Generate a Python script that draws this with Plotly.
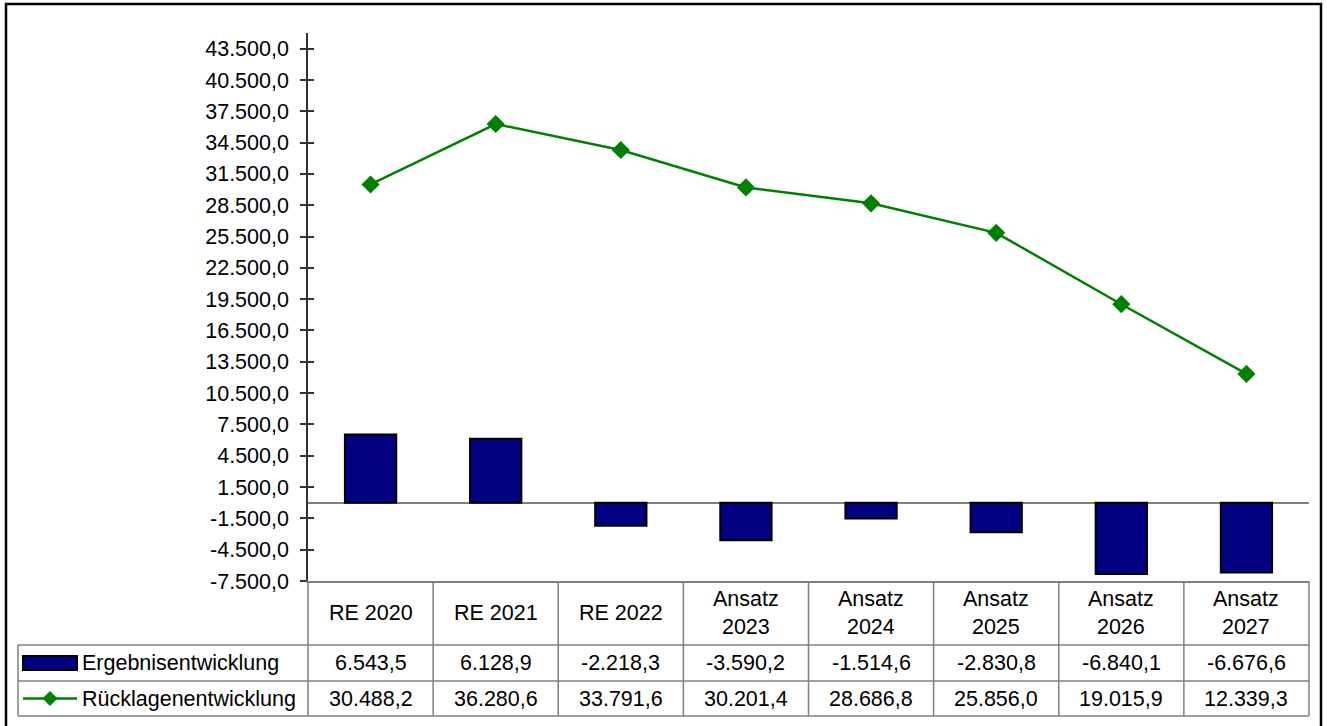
import plotly.graph_objects as go

# ---------------- data ----------------
categories = ["RE 2020", "RE 2021", "RE 2022", "Ansatz 2023", "Ansatz 2024",
              "Ansatz 2025", "Ansatz 2026", "Ansatz 2027"]
category_labels = ["RE 2020", "RE 2021", "RE 2022", "Ansatz<br>2023", "Ansatz<br>2024",
                   "Ansatz<br>2025", "Ansatz<br>2026", "Ansatz<br>2027"]
ergebnis = [6543.5, 6128.9, -2218.3, -3590.2, -1514.6, -2830.8, -6840.1, -6676.6]
ruecklagen = [30488.2, 36280.6, 33791.6, 30201.4, 28686.8, 25856.0, 19015.9, 12339.3]
series_names = ["Ergebnisentwicklung", "Rücklagenentwicklung"]
y_ticks = [-7500, -4500, -1500, 1500, 4500, 7500, 10500, 13500, 16500, 19500,
           22500, 25500, 28500, 31500, 34500, 37500, 40500, 43500]
y_range = [-7500, 45000]


def de(v):
    s = f"{v:,.1f}"
    return s.replace(",", "X").replace(".", ",").replace("X", ".")


# ---------------- layout geometry (screen pixels; body margin removed) ----------------
W, H = 1327, 726
L, R, T, B = 308, 1309, 33, 581          # plot area
FONT = "Liberation Sans, Arial, sans-serif"
FS = 21.5
TABLE_LEFT = 18
ROW_CAT_BOTTOM = 645
ROW1_BOTTOM = 681
ROW2_BOTTOM = 716
GRID = "#808080"


def px(p):
    return (p - L) / (R - L)


def py(p):
    return (B - p) / (B - T)


fig = go.Figure()
fig.add_trace(go.Bar(
    x=categories, y=ergebnis, name=series_names[0], width=0.41,
    marker=dict(color="#000080", line=dict(color="#000000", width=2)),
    showlegend=False,
))
fig.add_trace(go.Scatter(
    x=categories, y=ruecklagen, name=series_names[1], mode="lines+markers",
    line=dict(color="#008000", width=2.5),
    marker=dict(symbol="diamond", size=14, color="#008000"),
    showlegend=False,
))
# invisible helper trace for the inner half of the cross ticks
fig.add_trace(go.Scatter(
    x=categories, y=ruecklagen, yaxis="y2", mode="markers",
    marker=dict(opacity=0), hoverinfo="skip", showlegend=False,
))

shapes = []
# outer frame
shapes.append(dict(type="rect", xref="paper", yref="paper",
                   x0=px(6), x1=px(1321), y0=py(760), y1=py(4),
                   line=dict(color="black", width=2.5)))
# table horizontal lines
for yy in [ROW_CAT_BOTTOM, ROW1_BOTTOM, ROW2_BOTTOM]:
    shapes.append(dict(type="line", xref="paper", yref="paper",
                       x0=px(TABLE_LEFT), x1=1, y0=py(yy), y1=py(yy),
                       line=dict(color=GRID, width=1.5)))
# table vertical lines (category separators)
n = len(categories)
for k in range(n + 1):
    shapes.append(dict(type="line", xref="paper", yref="paper",
                       x0=k / n, x1=k / n, y0=0, y1=py(ROW2_BOTTOM),
                       line=dict(color=GRID, width=1.5)))
# left edge of legend column
shapes.append(dict(type="line", xref="paper", yref="paper",
                   x0=px(TABLE_LEFT), x1=px(TABLE_LEFT),
                   y0=py(ROW_CAT_BOTTOM), y1=py(ROW2_BOTTOM),
                   line=dict(color=GRID, width=1.5)))

# legend keys
r1c = (ROW_CAT_BOTTOM + ROW1_BOTTOM) / 2
r2c = (ROW1_BOTTOM + ROW2_BOTTOM) / 2
shapes.append(dict(type="rect", xref="paper", yref="paper",
                   x0=px(23), x1=px(77), y0=py(r1c + 7), y1=py(r1c - 7),
                   fillcolor="#000080", line=dict(color="black", width=2)))
shapes.append(dict(type="line", xref="paper", yref="paper",
                   x0=px(23), x1=px(77), y0=py(r2c), y1=py(r2c),
                   line=dict(color="#008000", width=2.5)))
cx, cy, d = 50, r2c, 7
shapes.append(dict(type="path", xref="paper", yref="paper",
                   path=f"M {px(cx - d)},{py(cy)} L {px(cx)},{py(cy - d)} "
                        f"L {px(cx + d)},{py(cy)} L {px(cx)},{py(cy + d)} Z",
                   fillcolor="#008000", line=dict(color="#008000", width=1)))

annotations = []
for k, lab in enumerate(category_labels):
    annotations.append(dict(x=categories[k], xref="x", y=py((B + ROW_CAT_BOTTOM) / 2),
                            yref="paper", text=lab, showarrow=False,
                            xanchor="center", yanchor="middle",
                            font=dict(family=FONT, size=FS, color="black")))
    annotations.append(dict(x=categories[k], xref="x", y=py(r1c), yref="paper",
                            text=de(ergebnis[k]), showarrow=False,
                            xanchor="center", yanchor="middle",
                            font=dict(family=FONT, size=FS, color="black")))
    annotations.append(dict(x=categories[k], xref="x", y=py(r2c), yref="paper",
                            text=de(ruecklagen[k]), showarrow=False,
                            xanchor="center", yanchor="middle",
                            font=dict(family=FONT, size=FS, color="black")))
for name, rc in zip(series_names, [r1c, r2c]):
    annotations.append(dict(x=px(80), xref="paper", y=py(rc), yref="paper",
                            text=name, showarrow=False, xanchor="left",
                            yanchor="middle",
                            font=dict(family=FONT, size=FS, color="black")))

fig.update_layout(
    width=W, height=H,
    margin=dict(l=L, r=W - R, t=T, b=H - B, pad=0),
    paper_bgcolor="white", plot_bgcolor="white",
    font=dict(family=FONT, size=FS, color="black"),
    bargap=0.59,
    xaxis=dict(type="category", range=[-0.5, n - 0.5], showticklabels=False,
               ticks="", showgrid=False, zeroline=False, showline=True,
               linecolor=GRID, linewidth=1.5),
    yaxis=dict(range=y_range, tickvals=y_ticks, ticktext=[de(v) for v in y_ticks],
               ticks="outside", ticklen=6, tickwidth=1.5, tickcolor="#333333",
               showline=True, linecolor="#333333", linewidth=1.5,
               showgrid=False, zeroline=True, zerolinecolor=GRID,
               zerolinewidth=1.5, ticklabelstandoff=7,
               tickfont=dict(family=FONT, size=FS, color="black")),
    yaxis2=dict(range=y_range, tickvals=y_ticks, overlaying="y", side="left",
                anchor="x", ticks="inside", ticklen=6, tickwidth=1.5,
                tickcolor="#333333", showticklabels=False, showline=False,
                showgrid=False, zeroline=False),
    shapes=shapes,
    annotations=annotations,
)

fig.write_html(
    "out.html",
    config={"displayModeBar": False},
    post_script="document.body.style.margin='0';document.body.style.overflow='hidden';",
)
